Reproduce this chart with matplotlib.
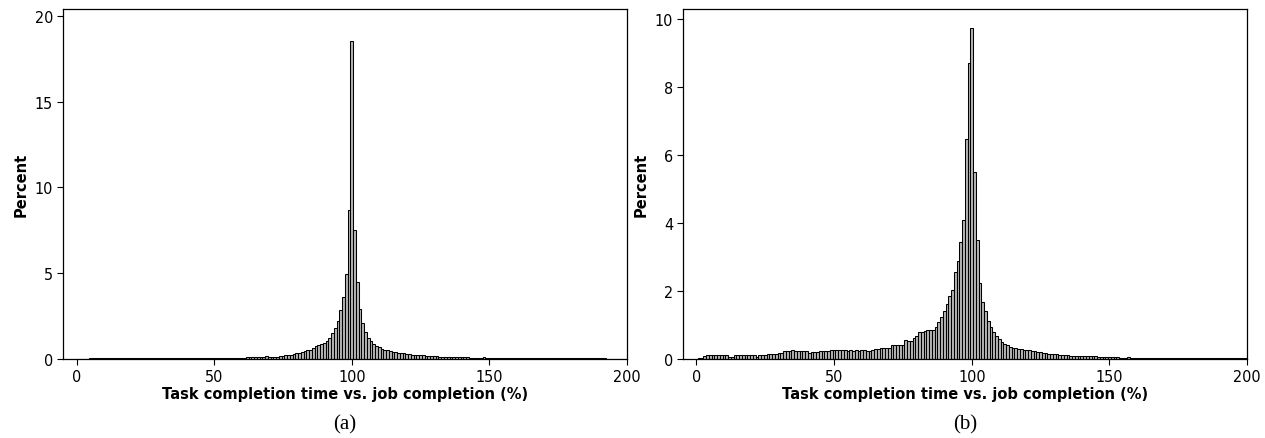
import numpy as np
import matplotlib.pyplot as plt

# percent of tasks per 1%-wide bin, bins centred on 0..200
bins = np.arange(0, 201)

pct_a = [
    0, 0.01, 0.01, 0.01, 0.01, 0.04, 0.04, 0.04, 0.04, 0.04,
    0.04, 0.04, 0.04, 0.04, 0.04, 0.04, 0.04, 0.04, 0.04, 0.04,
    0.04, 0.04, 0.04, 0.04, 0.04, 0.04, 0.04, 0.04, 0.04, 0.04,
    0.04, 0.04, 0.04, 0.04, 0.04, 0.04, 0.04, 0.04, 0.04, 0.04,
    0.04, 0.04, 0.04, 0.04, 0.04, 0.04, 0.04, 0.04, 0.04, 0.04,
    0.04, 0.04, 0.04, 0.04, 0.04, 0.04, 0.04, 0.04, 0.08, 0.08,
    0.08, 0.08, 0.09, 0.09, 0.09, 0.10, 0.10, 0.09, 0.14, 0.15,
    0.12, 0.10, 0.13, 0.14, 0.17, 0.19, 0.24, 0.25, 0.26, 0.30,
    0.33, 0.36, 0.42, 0.48, 0.50, 0.54, 0.62, 0.78, 0.80, 0.86,
    0.95, 1.05, 1.25, 1.50, 1.80, 2.20, 2.85, 3.60, 4.96, 8.70,
    18.56,
    7.54, 4.47, 2.92, 2.10, 1.55, 1.20, 1.03, 0.88, 0.78, 0.68,
    0.60, 0.54, 0.50, 0.46, 0.43, 0.39, 0.37, 0.34, 0.32, 0.30,
    0.27, 0.26, 0.25, 0.24, 0.24, 0.23, 0.20, 0.19, 0.19, 0.18,
    0.16, 0.14, 0.13, 0.13, 0.12, 0.12, 0.11, 0.11, 0.10, 0.10,
    0.09, 0.09, 0.08, 0.08, 0.08, 0.08, 0.07, 0.10, 0.05, 0.04,
    0.03, 0.03, 0.03, 0.03, 0.03, 0.03, 0.03, 0.03, 0.03, 0.03,
    0.03, 0.03, 0.03, 0.03, 0.03, 0.03, 0.03, 0.03, 0.03, 0.03,
    0.03, 0.03, 0.03, 0.03, 0.03, 0.03, 0.03, 0.03, 0.03, 0.03,
    0.03, 0.03, 0.03, 0.05, 0.05, 0.05, 0.05, 0.05, 0.05, 0.05,
    0.05, 0.05, 0.02, 0.02, 0.02, 0.02, 0.02, 0.02, 0.02, 0.02,
]

pct_b = [
    0, 0.02, 0.04, 0.08, 0.12, 0.12, 0.12, 0.12, 0.12, 0.12,
    0.12, 0.12, 0.06, 0.06, 0.12, 0.12, 0.12, 0.12, 0.12, 0.12,
    0.12, 0.12, 0.06, 0.11, 0.11, 0.11, 0.16, 0.16, 0.16, 0.16,
    0.19, 0.19, 0.22, 0.22, 0.22, 0.25, 0.22, 0.22, 0.22, 0.22,
    0.22, 0.18, 0.21, 0.21, 0.21, 0.22, 0.22, 0.22, 0.22, 0.25,
    0.25, 0.25, 0.25, 0.25, 0.25, 0.22, 0.25, 0.24, 0.25, 0.23,
    0.25, 0.25, 0.24, 0.24, 0.27, 0.30, 0.30, 0.33, 0.33, 0.31,
    0.31, 0.41, 0.41, 0.41, 0.41, 0.41, 0.56, 0.53, 0.53, 0.61,
    0.69, 0.78, 0.80, 0.83, 0.86, 0.86, 0.86, 0.95, 1.08, 1.22,
    1.41, 1.62, 1.85, 2.03, 2.55, 2.89, 3.45, 4.09, 6.46, 8.70,
    9.73,
    5.51, 3.50, 2.23, 1.69, 1.40, 1.12, 0.95, 0.80, 0.68, 0.58,
    0.50, 0.44, 0.40, 0.36, 0.33, 0.32, 0.30, 0.28, 0.27, 0.25,
    0.25, 0.23, 0.22, 0.21, 0.20, 0.19, 0.18, 0.16, 0.15, 0.15,
    0.14, 0.13, 0.12, 0.12, 0.11, 0.10, 0.10, 0.10, 0.09, 0.09,
    0.10, 0.09, 0.08, 0.08, 0.09, 0.07, 0.06, 0.06, 0.06, 0.06,
    0.05, 0.05, 0.05, 0.04, 0.04, 0.04, 0.06, 0.02, 0.02, 0.02,
    0.02, 0.02, 0.02, 0.02, 0.02, 0.02, 0.02, 0.02, 0.02, 0.02,
    0.02, 0.02, 0.02, 0.02, 0.02, 0.02, 0.02, 0.02, 0.02, 0.02,
    0.02, 0.02, 0.02, 0.02, 0.02, 0.02, 0.02, 0.02, 0.02, 0.02,
    0.02, 0.02, 0.02, 0.02, 0.02, 0.02, 0.02, 0.02, 0.02, 0.02,
]

panels = [
    (pct_a, [0, 5, 10, 15, 20], 20.4, "(a)"),
    (pct_b, [0, 2, 4, 6, 8, 10], 10.29, "(b)"),
]

fig = plt.figure(figsize=(12.65, 4.39), dpi=100)
lefts = [0.0496, 0.5397]
width = 0.4461

for left, (vals, yticks, ytop, tag) in zip(lefts, panels):
    ax = fig.add_axes([left, 0.18, width, 0.797])
    ax.bar(bins, vals, width=1.0, color="#b4b4b4", edgecolor="black",
           linewidth=0.75)
    ax.set_xlim(-5, 200)
    ax.set_ylim(0, ytop)
    ax.set_xticks([0, 50, 100, 150, 200])
    ax.set_yticks(yticks)
    ax.tick_params(direction="out", length=4, width=0.8, labelsize=11.5,
                   top=False, right=False, pad=3)
    for lab in ax.get_xticklabels() + ax.get_yticklabels():
        lab.set_family("DejaVu Sans")
        lab.set_stretch("condensed")
    for sp in ax.spines.values():
        sp.set_linewidth(0.9)
    ax.set_xlabel("Task completion time vs. job completion (%)",
                  fontsize=10.5, fontweight="bold", labelpad=2)
    ax.set_ylabel("Percent", fontsize=10.5, fontweight="bold", labelpad=4)
    ax.text(0.5, -0.186, tag, transform=ax.transAxes, ha="center",
            va="center", fontsize=15, family="Liberation Serif")

fig.savefig("out.png", dpi=100)
